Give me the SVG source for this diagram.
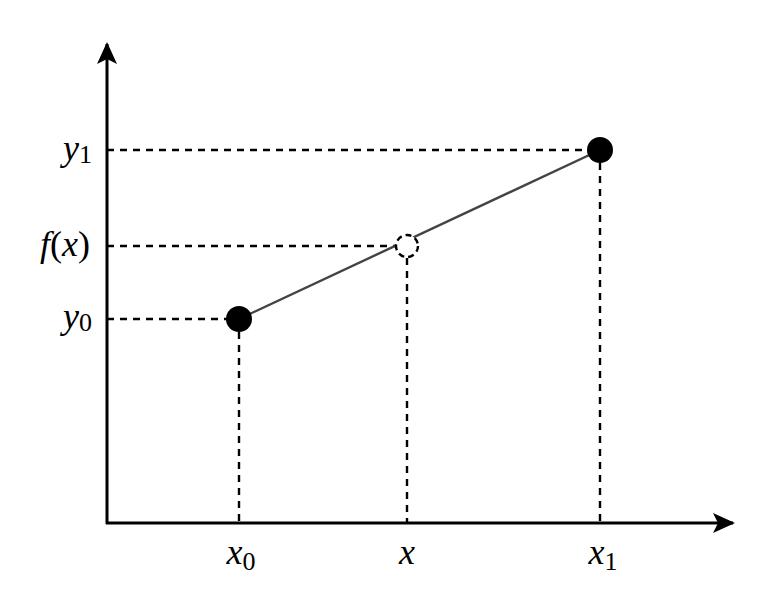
<svg xmlns="http://www.w3.org/2000/svg" width="778" height="610" viewBox="0 0 778 610">
<style>
.axis{stroke:#000;stroke-width:3;fill:none}
.dash{stroke:#000;stroke-width:2.4;stroke-dasharray:7 6;fill:none}
.sub{font-style:normal;font-size:26px}
.up{font-style:normal}
</style>
<defs>
<marker id="arr" viewBox="0 0 22 20" refX="20" refY="10" markerWidth="22" markerHeight="20" markerUnits="userSpaceOnUse" orient="auto">
<path d="M0,0 L22,10 L0,20 L5,10 Z" fill="#000"/>
</marker>
</defs>
<rect width="778" height="610" fill="#fff"/>
<g id="connectors">
<line class="dash" x1="107" y1="150" x2="600" y2="150"/>
<line class="dash" x1="107" y1="246" x2="396" y2="246"/>
<line class="dash" x1="107" y1="319" x2="239" y2="319"/>
<line class="dash" x1="239" y1="319" x2="239" y2="523"/>
<line class="dash" x1="407" y1="258" x2="407" y2="523"/>
<line class="dash" x1="600" y1="150" x2="600" y2="523"/>
<line x1="239" y1="319" x2="600" y2="150" stroke="#444" stroke-width="2.4"/>
</g>
<g id="axes">
<line class="axis" x1="107" y1="524" x2="107" y2="44" marker-end="url(#arr)"/>
<line class="axis" x1="106" y1="523" x2="733" y2="523" marker-end="url(#arr)"/>
</g>
<g id="p0"><circle cx="239" cy="319" r="13" fill="#000"/></g>
<g id="p1"><circle cx="600" cy="150" r="13" fill="#000"/></g>
<g id="px"><circle cx="407" cy="246" r="11" fill="#fff" stroke="#000" stroke-width="2.4" stroke-dasharray="6 4"/></g>
<g id="labels" font-family="'Liberation Serif', 'DejaVu Serif', serif" font-style="italic" font-size="36" fill="#000">
<text x="92" y="160" text-anchor="end">y<tspan class="sub" dy="3">1</tspan></text>
<text x="90" y="256" text-anchor="end">f<tspan class="up">(</tspan>x<tspan class="up">)</tspan></text>
<text x="92" y="328" text-anchor="end">y<tspan class="sub" dy="3">0</tspan></text>
<text x="241" y="564" text-anchor="middle">x<tspan class="sub" dy="6">0</tspan></text>
<text x="407" y="564" text-anchor="middle">x</text>
<text x="603" y="564" text-anchor="middle">x<tspan class="sub" dy="6">1</tspan></text>
</g>
</svg>
